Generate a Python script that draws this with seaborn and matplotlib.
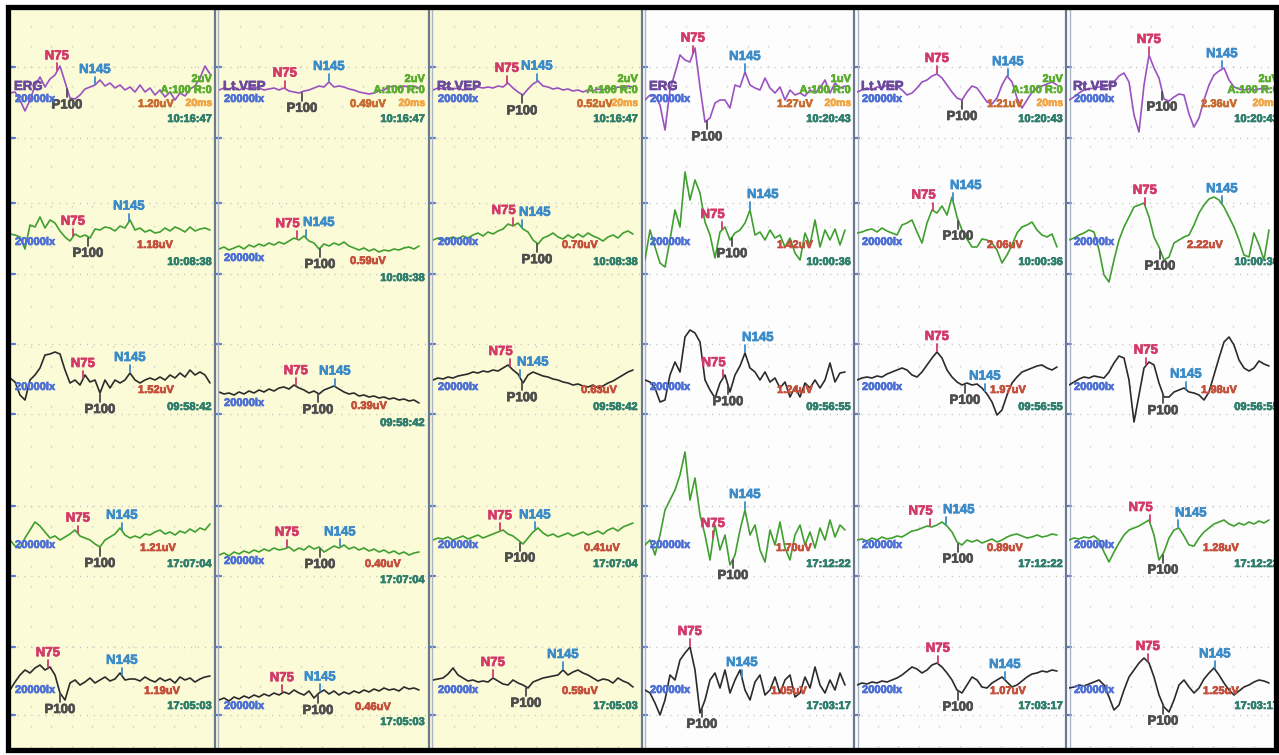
import numpy as np
import matplotlib
matplotlib.use("Agg")
import matplotlib.pyplot as plt
import matplotlib.patheffects as pe
from matplotlib.patches import Rectangle
import seaborn as sns

# ---------------- data (trace values sampled every 5 ms, display units) ----------------
DT = 5
COL_HEAD = ["ERG", "Lt.VEP", "Rt.VEP", "ERG", "Lt.VEP", "Rt.VEP"]
SCALE_LBL = ["2uV", "2uV", "2uV", "1uV", "2uV", "2uV"]
LUX = "20000lx"

R1C1 = [-3, -2, -10, -21, -10, 4, 13, 3, 11, 15, 24, 8, -8, -9, -5, 1, 3, 5, 10, 4, 7, 2, 5, 0, 3, -2, 5, -2, 2, -5, 0, -7, -2, -10, -3, -6, 1, 4, 12, 24, 16]
R1C2 = [0, 2, 1, 3, 0, 2, 1, 3, 2, 0, 1, 2, 0, 2, -1, -2, -3, -1, 0, 2, 4, 3, 8, 3, 4, 3, 1, 0, -2, -3, -4, -3, -1, 0, 3, 4, 2, 4, 3, 4, 2]
R1C3 = [0, 2, 1, 3, 1, 2, 0, 2, 1, 3, 2, 3, 2, 4, 3, 7, 2, -2, -5, 1, 6, 9, 4, 3, 1, 2, 0, 1, -1, 0, -2, 0, -1, 1, 0, 2, 1, 3, 2, 4, 3]
R1C4 = [-10, -5, -6, -15, -40, 0, 17, 35, 30, 28, 42, 3, -32, -28, -13, -10, -10, -18, 5, 3, 18, 5, 2, 0, 12, 2, -3, 3, -10, 0, -5, -3, -6, 0, -3, 2, 10, -3, 7, 2, 4]
R1C5 = [-2, 0, 2, 0, 3, 2, 5, 3, 4, 0, -5, -3, 2, 8, 10, 14, 16, 12, 5, -2, -8, -10, -2, 4, 2, -5, -12, -14, -8, 5, 14, 8, -8, -18, -10, -2, 2, 4, 6, 8, 5]
R1C6 = [-10, -7, -3, 0, 1, 2, 3, 3, 5, 8, 14, 17, 8, -25, -42, 5, 35, 22, 12, -9, -11, -7, -4, -5, -24, -37, -28, -10, 5, 15, 19, 22, 10, 3, 1, 0, 1, 0, 1, 2, 1]

R2C1 = [1, 0, -2, -14, 10, 8, 18, 7, 15, 12, 4, -2, -6, 1, -2, 0, -3, 6, 5, 8, 7, 4, 9, 7, 15, 5, 7, 3, 5, 2, 3, 7, 4, 8, 6, 3, 8, 4, 6, 7, 5]
R2C2 = [-14, -12, -15, -13, -11, -14, -10, -12, -9, -11, -8, -10, -7, -9, -6, -3, -5, -1, -6, -8, -14, -9, -11, -8, -10, -7, -11, -13, -15, -13, -16, -14, -17, -15, -16, -14, -15, -13, -12, -14, -11]
R2C3 = [-5, -3, -6, -4, -2, -4, -1, -3, 0, 2, -1, 3, 1, 4, 6, 11, 9, 12, 6, 3, -5, -9, -3, -1, 2, -2, -4, 0, -3, 1, -2, 2, -1, -3, -6, -2, 0, -3, 2, 4, 1]
R2C4 = [-25, 5, -12, -28, -32, -5, 25, 8, 63, 35, 55, 42, 13, 0, -23, 3, 8, -5, 2, 5, 12, 25, 0, 3, -5, 5, -3, 0, -12, -3, -18, -25, 2, -10, 15, -12, 5, -5, 6, -10, 5]
R2C5 = [2, 3, 5, 6, 3, 7, 4, 2, 0, 10, 12, 15, 3, -8, 12, 25, 22, 29, 20, 38, 18, 5, -4, -12, -12, -4, -5, -8, -15, -28, -20, -10, 2, 8, 10, 13, 5, 0, -2, 1, -12]
R2C6 = [-5, -3, 0, 2, 5, 3, -15, -40, -47, -25, -5, 8, 18, 28, 30, 32, 18, -2, -12, -25, -22, -8, -5, -2, 0, 10, 22, 30, 36, 38, 35, 28, 18, 8, -5, -20, -22, 2, -10, -25, 5]

R3C1 = [2, -2, -15, -20, 0, 5, 12, 25, 26, 28, 26, 10, -3, 0, -5, 5, -2, 0, -13, 0, -8, 0, -3, 0, 7, 0, -3, 0, 2, 0, 3, 0, 5, 2, 7, 3, 10, 5, 8, 5, -3]
R3C2 = [-12, -14, -13, -15, -12, -14, -11, -13, -10, -12, -9, -11, -8, -7, -9, -5, -8, -10, -13, -11, -14, -10, -8, -6, -9, -12, -14, -13, -16, -15, -17, -16, -18, -17, -19, -18, -20, -19, -21, -20, -23]
R3C3 = [0, 2, 1, 3, 2, 4, 5, 6, 8, 7, 9, 8, 10, 9, 12, 15, 10, 6, -3, 5, 8, 6, 4, 3, 1, 0, -2, -3, -5, -4, -6, -7, -5, -8, -6, -3, -1, 2, 5, 8, 10]
R3C4 = [0, -2, -8, -22, -20, 5, 18, 8, 43, 50, 47, 38, 0, -10, -18, -3, 5, -12, 5, 14, 27, 12, 8, 0, 8, -2, 2, -8, -2, -17, -7, -17, -3, -8, 0, -8, 0, 17, -2, 7, 8]
R3C5 = [0, 2, 3, 2, 4, 3, 6, 8, 10, 12, 10, 5, 3, 8, 15, 22, 28, 22, 10, 3, -2, -5, -3, -5, -4, -8, -14, -22, -35, -30, -15, -3, 3, 8, 10, 12, 14, 15, 12, 10, 13]
R3C6 = [-5, -2, 1, 3, 2, 4, 3, 2, 8, 17, 24, 22, 0, -42, -15, 12, 18, 15, -3, -17, -17, -12, -10, -8, -12, -13, -15, -20, -12, 5, 22, 38, 43, 35, 20, 12, 9, 12, 19, 16, 14]

R4C1 = [0, -6, -8, 2, 10, 18, 14, 8, 2, 4, 0, 3, 6, 10, 4, 2, 0, -4, -7, 0, 3, 6, 12, 5, 2, 4, 2, 6, 5, 8, 10, 6, 8, 5, 9, 7, 11, 8, 12, 10, 16]
R4C2 = [-15, -13, -16, -12, -14, -11, -13, -10, -12, -9, -11, -8, -10, -9, -7, -11, -8, -10, -6, -9, -7, -12, -9, -6, -8, -5, -9, -7, -10, -8, -11, -9, -12, -10, -13, -11, -14, -12, -15, -13, -12]
R4C3 = [0, 2, 1, 3, 0, 2, 4, 1, 3, 5, 2, 4, 6, 8, 10, 6, 4, 0, -4, 2, 8, 12, 7, 4, 6, 3, 5, 7, 4, 6, 8, 5, 7, 9, 6, 10, 12, 9, 13, 15, 17]
R4C4 = [-5, 0, -15, 5, 30, 40, 50, 65, 88, 40, 62, 25, 5, -20, 15, -10, 5, -25, -15, 10, 30, 5, 15, -10, -22, 10, -5, 18, -8, -20, 5, 15, -5, 8, -8, 12, 0, 20, 3, 15, 10]
R4C5 = [0, 1, -1, 2, 0, 3, 1, 2, 4, 3, 6, 9, 10, 12, 14, 13, 15, 18, 14, 8, -2, -5, 0, -2, 0, -3, -1, 1, -2, 0, 3, 5, 6, 4, 2, 3, 5, 3, 4, 6, 5]
R4C6 = [0, 2, 1, 3, 2, 4, 0, -12, -22, -12, -3, 5, 10, 12, 14, 17, 20, 5, -20, -12, 2, 10, 12, 4, -5, -6, 2, 8, 12, 16, 18, 20, 16, 14, 17, 15, 18, 16, 19, 17, 20]

R5C1 = [-5, 3, 10, 15, 12, 17, 20, 15, 18, 10, -8, -15, 2, 5, 0, 3, 7, 2, 5, 8, 4, 6, 12, 5, 6, 6, 4, 8, 5, 3, 7, 4, 6, 2, 8, 5, 7, 3, 6, 8, 9]
R5C2 = [-15, -13, -16, -12, -14, -11, -13, -10, -12, -9, -11, -8, -10, -7, -9, -5, -8, -10, -6, -13, -8, -5, -9, -6, -10, -7, -9, -6, -8, -5, -7, -4, -6, -3, -5, -4, -6, -2, -4, -3, -5]
R5C3 = [5, 6, 7, 11, 17, 10, 7, 4, 5, 3, 4, 3, 7, 4, 1, 0, 5, 2, 0, -3, 3, 5, 7, 8, 9, 10, 15, 10, 13, 15, 12, 10, 7, 4, 6, 5, 2, 7, 4, 2, -2]
R5C4 = [-5, -8, -18, -30, -15, 10, 5, 25, 32, 38, 15, -28, -15, 5, 12, -3, 15, -8, 5, 15, -5, -15, 3, 10, -10, -5, 8, -8, 5, 10, -12, -8, 8, -3, 18, 0, -8, 5, -5, 12, 0]
R5C5 = [0, 2, 1, 3, 2, 4, 3, 5, 7, 10, 14, 18, 16, 12, 15, 20, 22, 18, 12, 5, -5, -8, 0, 8, 5, -2, -3, 2, 5, 8, 3, -2, 0, 4, 8, 11, 12, 14, 13, 15, 14]
R5C6 = [-3, -2, 0, -1, 1, 3, 5, 0, -12, -25, -20, -5, 8, 15, 22, 27, 22, 8, -10, -22, -27, -15, 0, 5, -2, -8, -3, 6, 12, 17, 10, 2, -5, -10, -6, -2, 0, 3, 5, 4, 2]

# peak latencies (ms from sweep start, same time base as traces)
N75_T = [[47, 66, 74, 48, 80, 80],
         [63, 78, 80, 77, 76, 76],
         [73, 77, 77, 78, 80, 77],
         [68, 68, 67, 68, 73, 81],
         [38, 63, 60, 45, 81, 79]]
P100_T = [[57, 83, 89, 62, 105, 93],
          [78, 101, 104, 87, 101, 91],
          [90, 99, 89, 83, 108, 94],
          [90, 101, 87, 88, 101, 94],
          [50, 99, 93, 57, 101, 94]]
N145_T = [[85, 110, 104, 100, 151, 153],
          [119, 87, 89, 105, 96, 153],
          [120, 116, 87, 100, 128, 117],
          [112, 121, 102, 100, 89, 109],
          [112, 101, 130, 97, 148, 146]]

AMP_LBL = [["1.20uV", "0.49uV", "0.52uV", "1.27uV", "1.21uV", "2.36uV"],
           ["1.18uV", "0.59uV", "0.70uV", "1.42uV", "2.06uV", "2.22uV"],
           ["1.52uV", "0.39uV", "0.63uV", "1.24uV", "1.97uV", "1.98uV"],
           ["1.21uV", "0.40uV", "0.41uV", "1.70uV", "0.89uV", "1.28uV"],
           ["1.19uV", "0.46uV", "0.59uV", "1.05uV", "1.07uV", "1.25uV"]]
TIME_LBL = [["10:16:47"] * 3 + ["10:20:43"] * 3,
            ["10:08:38"] * 3 + ["10:00:36"] * 3,
            ["09:58:42"] * 3 + ["09:56:55"] * 3,
            ["17:07:04"] * 3 + ["17:12:22"] * 3,
            ["17:05:03"] * 3 + ["17:03:17"] * 3]

TRACES = [[R1C1, R1C2, R1C3, R1C4, R1C5, R1C6],
          [R2C1, R2C2, R2C3, R2C4, R2C5, R2C6],
          [R3C1, R3C2, R3C3, R3C4, R3C5, R3C6],
          [R4C1, R4C2, R4C3, R4C4, R4C5, R4C6],
          [R5C1, R5C2, R5C3, R5C4, R5C5, R5C6]]

# ---------------- layout / style ----------------
W, H = 1279, 755
X0 = [10, 219, 433, 645, 857, 1069]
XR = [212, 425, 638, 851, 1063, 1279]
BASE = [90, 235, 380, 540, 685]
ROW_LINES = [67, 138, 203, 274, 344, 414, 506, 576, 647, 715]
SEPS = [214.5, 428.5, 641.5, 854, 1066]
HALF = 95
TIME_DY = [29, 27, 27, 24, 21]
AMP_DY = [14, 10, 10, 8, 6]
LX_DY = [9, 7, 7, 5, 5]
AMP_DX = [[146, 149, 162, 150, 148, 150],
          [145, 149, 147, 150, 148, 136],
          [146, 150, 166, 150, 151, 150],
          [148, 164, 169, 149, 148, 152],
          [152, 154, 147, 144, 151, 152]]
ROW_COLOR = ['#9a52c0', '#3f9f2f', '#2b2b2b', '#3f9f2f', '#2b2b2b']
C_N75, C_N145, C_P100 = '#d23a6a', '#3b8bc9', '#4d4d4d'
C_LX, C_TIME, C_HEAD = '#4d6fd4', '#2f7e6c', '#6b4a9c'
C_AMP1, C_AMP = '#c96a2e', '#c4503c'
C_SCALE, C_MS = '#5aad2e', '#f0a545'

sns.set_theme(style="white")
plt.rcParams['font.family'] = ['Liberation Sans', 'DejaVu Sans']
plt.rcParams['font.weight'] = 'bold'

fig = plt.figure(figsize=(W / 100, H / 100), dpi=100)
fig.patch.set_facecolor('white')


def label(ax, x, y, s, color, size=8, ha='center', va='center'):
    ax.text(x, y, s, color=color, fontsize=size, ha=ha, va=va, fontweight='bold',
            zorder=5, clip_on=False,
            path_effects=[pe.withStroke(linewidth=0.5, foreground=color)])


# background axes in pixel coordinates
bg = fig.add_axes([0, 0, 1, 1], zorder=0)
bg.set_xlim(0, W)
bg.set_ylim(H, 0)
bg.axis('off')
bg.add_patch(Rectangle((10, 8), 632, 742, facecolor='#fbfbd8', edgecolor='none', zorder=0))
bg.add_patch(Rectangle((642, 8), 634, 742, facecolor='#fdfdfd', edgecolor='none', zorder=0))
for c in range(6):
    left = X0[c] - 3 if c else 10
    right = SEPS[c] - 1 if c < 5 else 1275
    for i in range(1, 10):
        gx = X0[c] + 20.5 * i
        bg.plot([gx, gx], [10, 748], color='#c2c2c2', lw=1.0,
                ls=(3, (0.8, 13.6)), zorder=1)
    for gy in ROW_LINES:
        bg.plot([left, right], [gy, gy], color='#c2c2c2', lw=1.0,
                ls=(0, (0.8, 4.2)), zorder=1)
        bg.plot([left, left + 5], [gy, gy], color='#5a7bd0', lw=1.6, zorder=2)
for b in SEPS:
    bg.plot([b, b], [8, 750], color='#6a7890', lw=1.6, zorder=2)
    bg.plot([b + 3.5, b + 3.5], [8, 750], color='#aab3c3', lw=1.0, zorder=2)

# one transparent axes per recording cell, in its own ms / amplitude units
for r in range(5):
    for c in range(6):
        vals = np.asarray(TRACES[r][c], dtype=float)
        t = np.arange(len(vals)) * DT
        rect = [X0[c] / W, (H - BASE[r] - HALF) / H, 210 / W, 2 * HALF / H]
        ax = fig.add_axes(rect, zorder=3)
        ax.set_xlim(0, 210)
        ax.set_ylim(-HALF, HALF)
        ax.patch.set_alpha(0)
        sns.lineplot(x=t, y=vals, ax=ax, color=ROW_COLOR[r], linewidth=1.2,
                     estimator=None, sort=False, legend=False, zorder=3)
        ax.axis('off')
        shift = 16 if (c == 1 and r > 0) else 0
        xr = XR[c] - X0[c]

        close = (N145_T[r][c] - N75_T[r][c]) < 30
        # peak markers and labels
        for lat, col, lab, up in ((N75_T[r][c], C_N75, 'N75', True),
                                  (N145_T[r][c], C_N145, 'N145', True),
                                  (P100_T[r][c], C_P100, 'P100', False)):
            vm = np.interp(lat, t, vals)
            if up:
                ax.plot([lat, lat], [vm + 1, vm + 8], color=col, lw=1.3, zorder=4)
                if close and lab == 'N75':
                    label(ax, lat + 3, vm + 9, lab, col, 9.5, ha='right', va='bottom')
                elif close:
                    label(ax, lat - 3, vm + 9, lab, col, 9.5, ha='left', va='bottom')
                else:
                    label(ax, lat, vm + 9, lab, col, 9.5, va='bottom')
            else:
                ax.plot([lat, lat], [vm - 1, vm - 9], color=col, lw=1.3, zorder=4)
                label(ax, lat, vm - 11, lab, col, 9.5, va='top')

        label(ax, 5, -(LX_DY[r] + shift), LUX, C_LX, 8, ha='left')
        label(ax, AMP_DX[r][c], -(AMP_DY[r] + shift), AMP_LBL[r][c],
              C_AMP1 if r == 0 else C_AMP, 8)
        label(ax, xr, -(TIME_DY[r] + shift), TIME_LBL[r][c], C_TIME, 8, ha='right')
        if r == 0:
            label(ax, 4, 3, COL_HEAD[c], C_HEAD, 9.5, ha='left')
            label(ax, xr, 11, SCALE_LBL[c], C_SCALE, 8, ha='right')
            label(ax, xr, 0, "A:100 R:0", C_SCALE, 8, ha='right')
            label(ax, xr, -13, "20ms", C_MS, 7.5, ha='right')

# thick outer frame
top = fig.add_axes([0, 0, 1, 1], zorder=20)
top.set_xlim(0, W)
top.set_ylim(H, 0)
top.axis('off')
top.patch.set_alpha(0)
top.add_patch(Rectangle((1276, 0), 3, H, facecolor='white', edgecolor='none'))
top.add_patch(Rectangle((7.5, 6.5), 1268, 743, fill=False, edgecolor='black', lw=3.8))

fig.savefig("out.png", dpi=100)
